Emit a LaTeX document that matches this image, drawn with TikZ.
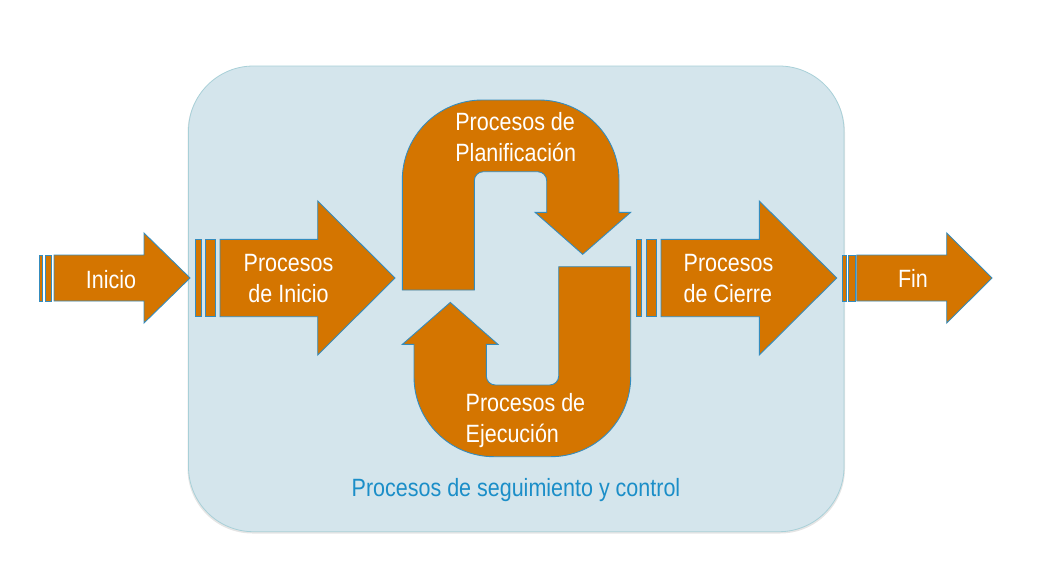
\documentclass[tikz,border=0pt]{standalone}
\usepackage{fontspec}
\setmainfont[FakeStretch=0.86]{Liberation Sans}
\definecolor{arrorange}{RGB}{212,117,0}
\definecolor{arrblue}{RGB}{52,140,190}
\definecolor{bgblue}{RGB}{212,229,236}
\definecolor{bgedge}{RGB}{168,208,216}
\definecolor{txtblue}{RGB}{27,142,200}
\newcommand{\twoline}[3]{\begin{tabular}[t]{@{}#1@{}}#2\\#3\end{tabular}}
\newcommand{\myArrow}[6]{%
  \draw[orng] (#1,#4-#5) -- (#2,#4-#5) -- (#2,#4-#6) -- (#3,#4) -- (#2,#4+#6) -- (#2,#4+#5) -- (#1,#4+#5) -- cycle;}
\newcommand{\myStripe}[4]{\draw[orng] (#1,#3) rectangle (#2,#4);}
\begin{document}
\begin{tikzpicture}[x=1pt,y=-1pt,
  orng/.style={fill=arrorange, draw=arrblue, line width=0.9pt, line join=miter},
  lbl/.style={text=white, inner sep=0pt, font=\fontsize{25}{31}\selectfont},
]
\fill[white] (0,0) rectangle (1041,568);
\useasboundingbox (0,0) rectangle (1041,568);
% background panel
\fill[black, opacity=0.10, rounded corners=65pt] (187.5,67.5) rectangle (845,533.5);
\draw[fill=bgblue, draw=bgedge, line width=0.8pt, rounded corners=65pt] (188.5,66) rectangle (844,531.7);
% Inicio
\myStripe{39.3}{42.7}{255}{301}
\myStripe{45}{51.7}{255}{301}
\myArrow{54}{144}{190}{278}{23}{45}
% Procesos de Inicio
\myStripe{195.7}{201}{239.3}{316.7}
\myStripe{205}{215.7}{239.3}{316.7}
\myArrow{220}{317.7}{395}{278}{38.7}{77}
% Procesos de Cierre
\myStripe{636.7}{641.7}{239.3}{316.7}
\myStripe{646}{656}{239.3}{316.7}
\myArrow{661}{759.3}{836.7}{278}{38.7}{77}
% Fin
\myStripe{842.7}{846}{255}{301}
\myStripe{848.7}{855}{255}{301}
\myArrow{856.7}{946.7}{992}{278}{23}{45}
% U-turn arrows
\foreach \ang in {0,180}{
\begin{scope}[rotate around={\ang:(516.5,278.35)}]
\draw[orng] (402.3,290) -- (402.3,180) arc[start angle=180, end angle=270, radius=80]
  -- (539,100) arc[start angle=270, end angle=360, radius=80]
  -- (619,212.3) -- (630.7,212.3) -- (582.7,254.3) -- (535,212.3) -- (546.7,212.3)
  -- (546.7,180.7) arc[start angle=0, end angle=-90, radius=9]
  -- (483.3,171.7) arc[start angle=270, end angle=180, radius=9]
  -- (474.3,290) -- cycle;
\end{scope}}
% labels
\node[lbl, anchor=base] (tInicio) at (111,288.3) {Inicio};
\node[lbl, anchor=base] (tPI) at (288.5,271.7) {\twoline{c}{Procesos}{de Inicio}};
\node[lbl, anchor=base west] (tPlan) at (455.2,130.7) {\twoline{l}{Procesos de}{Planificación}};
\node[lbl, anchor=base west] (tEje) at (465.5,411.7) {\twoline{l}{Procesos de}{Ejecución}};
\node[lbl, anchor=base west] (tCie) at (683.5,271.7) {\twoline{l}{Procesos}{de Cierre}};
\node[lbl, anchor=base] (tFin) at (913,287.7) {Fin};
\node[lbl, anchor=base, text=txtblue] (tSeg) at (516,496.7) {Procesos de seguimiento y control};
\end{tikzpicture}
\end{document}
